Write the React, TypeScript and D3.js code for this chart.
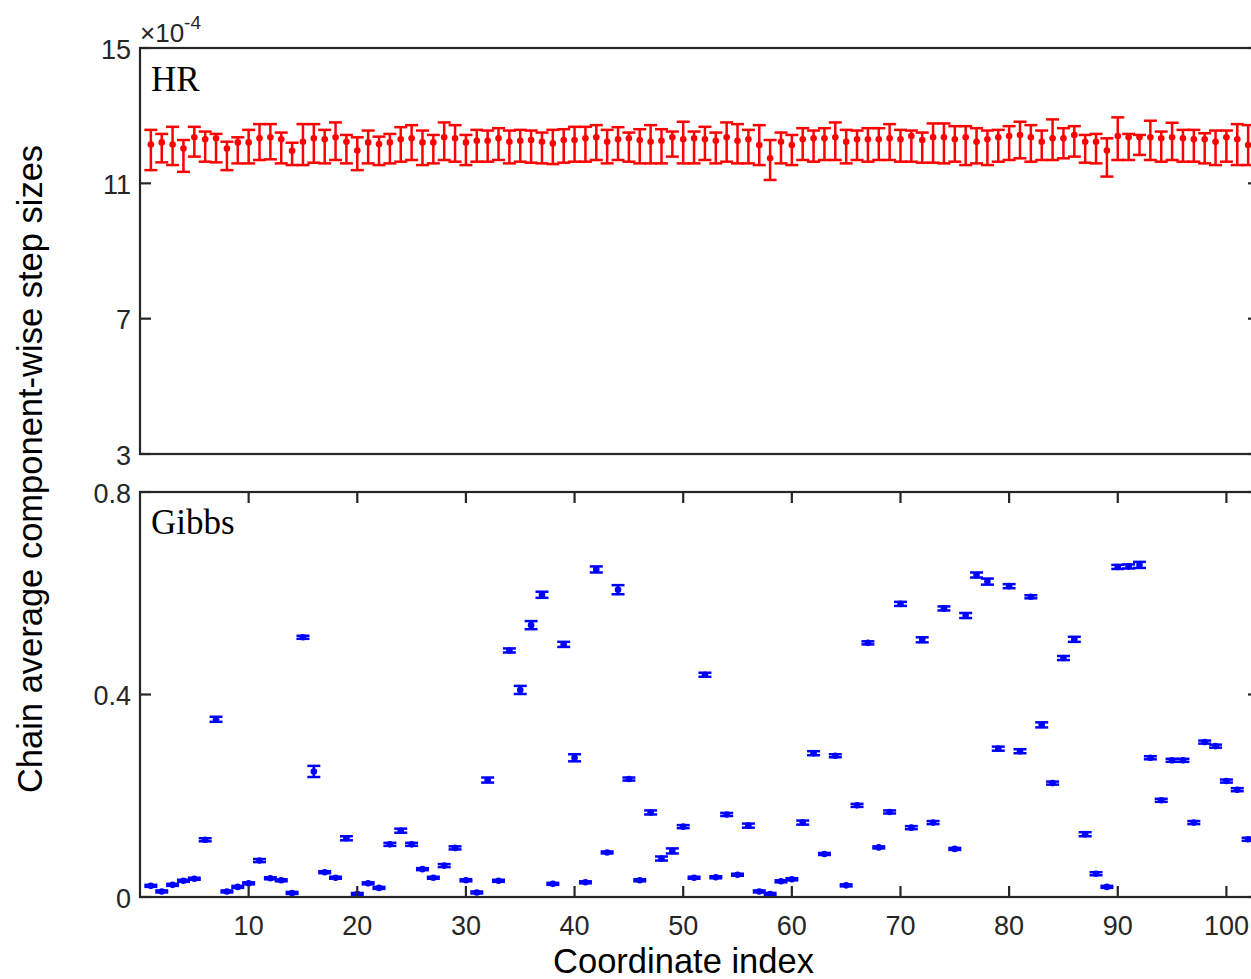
import React from "react";
import * as d3 from "d3";

// Coordinate indices 1..102
const coordIndex: number[] = d3.range(1, 103);

// HR sampler: chain-average step sizes (units of 1e-4) with interval bounds
const hrMean: number[] = [
  12.15, 12.21, 12.15, 12.03, 12.36, 12.30, 12.33, 12.03, 12.21, 12.21,
  12.33, 12.36, 12.30, 11.96, 12.23, 12.33, 12.30, 12.36, 12.23, 11.97,
  12.21, 12.16, 12.21, 12.30, 12.33, 12.21, 12.21, 12.36, 12.33, 12.21,
  12.26, 12.26, 12.33, 12.23, 12.26, 12.28, 12.23, 12.18, 12.28, 12.28,
  12.33, 12.36, 12.23, 12.30, 12.33, 12.28, 12.23, 12.26, 12.36, 12.30,
  12.33, 12.30, 12.26, 12.36, 12.26, 12.30, 12.13, 11.74, 12.23, 12.13,
  12.30, 12.33, 12.33, 12.36, 12.23, 12.30, 12.30, 12.30, 12.33, 12.30,
  12.40, 12.28, 12.36, 12.36, 12.30, 12.36, 12.23, 12.30, 12.36, 12.40,
  12.43, 12.36, 12.23, 12.33, 12.33, 12.43, 12.23, 12.23, 11.97, 12.40,
  12.36, 12.36, 12.36, 12.33, 12.36, 12.33, 12.30, 12.30, 12.23, 12.36,
  12.30, 12.13,
];
const hrUpper: number[] = [
  12.58, 12.46, 12.67, 12.28, 12.67, 12.53, 12.46, 12.23, 12.36, 12.58,
  12.75, 12.75, 12.50, 12.20, 12.75, 12.75, 12.58, 12.80, 12.43, 12.36,
  12.56, 12.38, 12.46, 12.66, 12.72, 12.56, 12.43, 12.80, 12.72, 12.43,
  12.58, 12.56, 12.63, 12.56, 12.58, 12.56, 12.50, 12.58, 12.60, 12.67,
  12.67, 12.72, 12.58, 12.66, 12.50, 12.60, 12.72, 12.60, 12.53, 12.82,
  12.53, 12.67, 12.50, 12.80, 12.75, 12.58, 12.72, 12.28, 12.50, 12.43,
  12.63, 12.56, 12.63, 12.80, 12.58, 12.56, 12.63, 12.63, 12.75, 12.58,
  12.56, 12.50, 12.77, 12.77, 12.69, 12.69, 12.63, 12.56, 12.58, 12.69,
  12.82, 12.72, 12.56, 12.89, 12.63, 12.69, 12.43, 12.46, 12.33, 12.95,
  12.46, 12.43, 12.85, 12.53, 12.79, 12.58, 12.58, 12.48, 12.56, 12.56,
  12.75, 12.72,
];
const hrLower: number[] = [
  11.39, 11.62, 11.54, 11.34, 11.79, 11.64, 11.62, 11.39, 11.59, 11.59,
  11.69, 11.71, 11.59, 11.54, 11.54, 11.61, 11.59, 11.69, 11.59, 11.39,
  11.59, 11.54, 11.59, 11.64, 11.69, 11.54, 11.59, 11.69, 11.64, 11.54,
  11.64, 11.64, 11.69, 11.59, 11.64, 11.61, 11.59, 11.57, 11.61, 11.64,
  11.64, 11.69, 11.59, 11.69, 11.64, 11.59, 11.59, 11.59, 11.79, 11.59,
  11.59, 11.69, 11.59, 11.64, 11.59, 11.59, 11.54, 11.10, 11.59, 11.54,
  11.69, 11.64, 11.69, 11.69, 11.59, 11.69, 11.64, 11.69, 11.69, 11.64,
  11.64, 11.61, 11.61, 11.59, 11.64, 11.54, 11.59, 11.54, 11.64, 11.69,
  11.74, 11.64, 11.69, 11.69, 11.74, 11.79, 11.61, 11.59, 11.20, 11.69,
  11.69, 11.84, 11.69, 11.64, 11.69, 11.64, 11.64, 11.59, 11.54, 11.64,
  11.54, 11.54,
];

// Gibbs sampler: chain-average step sizes with half-width of the error bars
const gibbsMean: number[] = [
  0.022, 0.011, 0.024, 0.032, 0.036, 0.113, 0.351, 0.011, 0.020, 0.027,
  0.072, 0.037, 0.033, 0.008, 0.513, 0.248, 0.049, 0.038, 0.116, 0.006,
  0.027, 0.018, 0.104, 0.131, 0.104, 0.055, 0.038, 0.062, 0.097, 0.033,
  0.009, 0.231, 0.032, 0.487, 0.409, 0.537, 0.597, 0.026, 0.499, 0.275,
  0.029, 0.647, 0.088, 0.607, 0.233, 0.033, 0.167, 0.076, 0.091, 0.139,
  0.038, 0.439, 0.039, 0.163, 0.044, 0.141, 0.011, 0.006, 0.031, 0.035,
  0.147, 0.284, 0.085, 0.279, 0.023, 0.181, 0.502, 0.098, 0.168, 0.579,
  0.137, 0.508, 0.147, 0.570, 0.095, 0.556, 0.636, 0.623, 0.293, 0.614,
  0.288, 0.593, 0.340, 0.225, 0.472, 0.509, 0.124, 0.046, 0.020, 0.652,
  0.653, 0.656, 0.275, 0.191, 0.270, 0.270, 0.147, 0.306, 0.298, 0.229,
  0.212, 0.114,
];
const gibbsErr: number[] = [
  0.002, 0.002, 0.002, 0.002, 0.002, 0.003, 0.005, 0.002, 0.002, 0.002,
  0.003, 0.002, 0.002, 0.002, 0.003, 0.011, 0.002, 0.002, 0.004, 0.002,
  0.002, 0.002, 0.003, 0.004, 0.003, 0.002, 0.002, 0.003, 0.003, 0.002,
  0.002, 0.005, 0.002, 0.004, 0.008, 0.008, 0.006, 0.002, 0.005, 0.007,
  0.002, 0.006, 0.002, 0.009, 0.003, 0.002, 0.004, 0.004, 0.005, 0.003,
  0.002, 0.004, 0.002, 0.003, 0.002, 0.004, 0.002, 0.002, 0.002, 0.002,
  0.004, 0.004, 0.002, 0.003, 0.002, 0.003, 0.003, 0.002, 0.003, 0.004,
  0.003, 0.005, 0.003, 0.004, 0.002, 0.005, 0.005, 0.006, 0.004, 0.004,
  0.004, 0.003, 0.005, 0.003, 0.004, 0.005, 0.004, 0.003, 0.002, 0.004,
  0.004, 0.006, 0.003, 0.003, 0.003, 0.003, 0.003, 0.003, 0.003, 0.003,
  0.003, 0.003,
];

// Tick values
const hrTicks: number[] = [3, 7, 11, 15];
const gibbsTicks: number[] = [0, 0.4, 0.8];
const xTicks: number[] = [10, 20, 30, 40, 50, 60, 70, 80, 90, 100];

const AXIS = "#262626";
const SANS = "'Liberation Sans', Arial, Helvetica, sans-serif";
const SERIF = "'Liberation Serif', 'Times New Roman', serif";

export default function App() {
  const W = 1251;
  const H = 979;
  const left = 140;
  const right = 1259;

  const x = d3.scaleLinear().domain([0, 103]).range([left, right]);
  const yHR = d3.scaleLinear().domain([3, 15]).range([454, 48]);
  const yG = d3.scaleLinear().domain([0, 0.8]).range([897, 492]);

  const capHalf = 6.5;
  const tickLen = 11;
  const barW = 2.5;
  const tickFont = 27;

  const hrTop = yHR(15);
  const hrBot = yHR(3);
  const gTop = yG(0.8);
  const gBot = yG(0);

  const frame = (top: number, bot: number) => (
    <rect
      x={left}
      y={top}
      width={right - left}
      height={bot - top}
      fill="none"
      stroke={AXIS}
      strokeWidth={2.2}
    />
  );

  return (
    <svg
      width={W}
      height={H}
      style={{ position: "absolute", left: 0, top: 0, background: "#fff" }}
    >
      <rect x={0} y={0} width={W} height={H} fill="#fff" />

      {/* ---------- HR panel ---------- */}
      <g>
        {coordIndex.map((c, i) => {
          const cx = x(c);
          const yt = yHR(hrUpper[i]);
          const yb = yHR(hrLower[i]);
          return (
            <g key={"hr" + c} stroke="#ff0000" strokeWidth={barW} fill="none">
              <line x1={cx} x2={cx} y1={yt} y2={yb} />
              <line x1={cx - capHalf} x2={cx + capHalf} y1={yt} y2={yt} />
              <line x1={cx - capHalf} x2={cx + capHalf} y1={yb} y2={yb} />
              <circle cx={cx} cy={yHR(hrMean[i])} r={3.3} fill="#ff0000" stroke="none" />
            </g>
          );
        })}
        {frame(hrTop, hrBot)}
        {hrTicks.map((t) => (
          <g key={"hrt" + t}>
            <line x1={left} x2={left + tickLen} y1={yHR(t)} y2={yHR(t)} stroke={AXIS} strokeWidth={2.2} />
            <line x1={right} x2={right - tickLen} y1={yHR(t)} y2={yHR(t)} stroke={AXIS} strokeWidth={2.2} />
            <text
              x={left - 9}
              y={yHR(t) + 10.5}
              textAnchor="end"
              fontFamily={SANS}
              fontSize={tickFont}
              fill={AXIS}
            >
              {t}
            </text>
          </g>
        ))}
        <text x={140} y={42} fontFamily={SANS} fontSize={26} fill={AXIS}>
          ×10
          <tspan fontSize={19} dy={-13}>-4</tspan>
        </text>
        <text x={151} y={91} fontFamily={SERIF} fontSize={35} fill="#000">
          HR
        </text>
      </g>

      {/* ---------- Gibbs panel ---------- */}
      <g>
        {coordIndex.map((c, i) => {
          const cx = x(c);
          const yt = yG(gibbsMean[i] + gibbsErr[i]);
          const yb = yG(gibbsMean[i] - gibbsErr[i]);
          return (
            <g key={"g" + c} stroke="#0000ff" strokeWidth={barW} fill="none">
              <line x1={cx} x2={cx} y1={yt} y2={yb} />
              <line x1={cx - capHalf} x2={cx + capHalf} y1={yt} y2={yt} />
              <line x1={cx - capHalf} x2={cx + capHalf} y1={yb} y2={yb} />
              <circle cx={cx} cy={yG(gibbsMean[i])} r={3.3} fill="#0000ff" stroke="none" />
            </g>
          );
        })}
        {frame(gTop, gBot)}
        {gibbsTicks.map((t) => (
          <g key={"gt" + t}>
            <line x1={left} x2={left + tickLen} y1={yG(t)} y2={yG(t)} stroke={AXIS} strokeWidth={2.2} />
            <line x1={right} x2={right - tickLen} y1={yG(t)} y2={yG(t)} stroke={AXIS} strokeWidth={2.2} />
            <text
              x={left - 9}
              y={yG(t) + 10.5}
              textAnchor="end"
              fontFamily={SANS}
              fontSize={tickFont}
              fill={AXIS}
            >
              {t === 0 ? "0" : t.toString()}
            </text>
          </g>
        ))}
        {xTicks.map((t) => (
          <g key={"xt" + t}>
            <line x1={x(t)} x2={x(t)} y1={gBot} y2={gBot - tickLen} stroke={AXIS} strokeWidth={2.2} />
            <line x1={x(t)} x2={x(t)} y1={gTop} y2={gTop + tickLen} stroke={AXIS} strokeWidth={2.2} />
            <text
              x={x(t)}
              y={935}
              textAnchor="middle"
              fontFamily={SANS}
              fontSize={tickFont}
              fill={AXIS}
            >
              {t}
            </text>
          </g>
        ))}
        <text x={151} y={534} fontFamily={SERIF} fontSize={35} fill="#000">
          Gibbs
        </text>
      </g>

      {/* ---------- shared axis labels ---------- */}
      <text
        x={683.5}
        y={973}
        textAnchor="middle"
        fontFamily={SANS}
        fontSize={34.5}
        fill="#000"
      >
        Coordinate index
      </text>
      <text
        transform="translate(42,469) rotate(-90)"
        textAnchor="middle"
        fontFamily={SANS}
        fontSize={34.5}
        fill="#000"
      >
        Chain average component-wise step sizes
      </text>
    </svg>
  );
}
